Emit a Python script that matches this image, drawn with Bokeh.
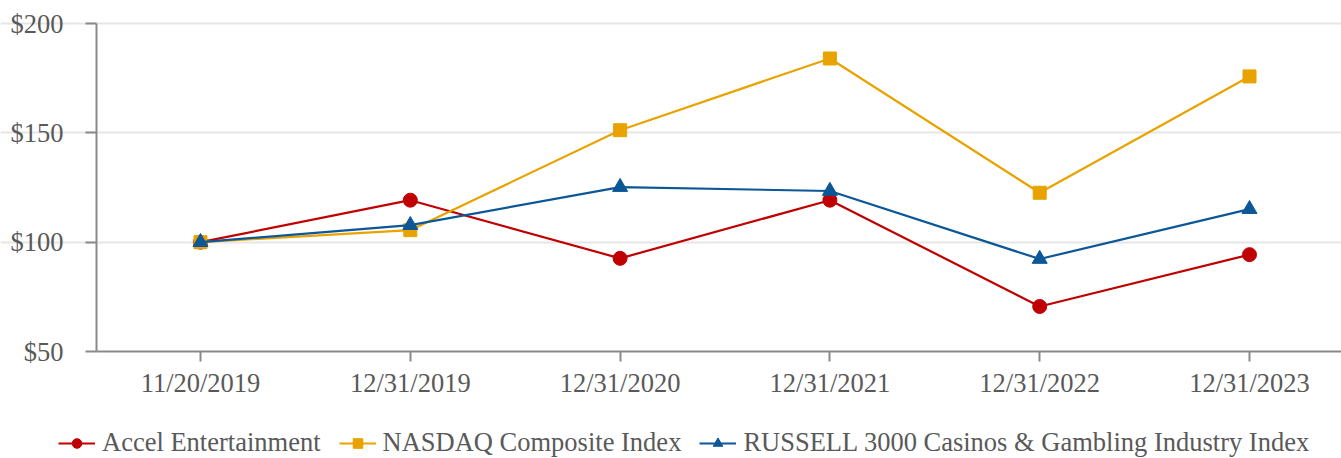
from bokeh.plotting import figure
from bokeh.models import Range1d, FixedTicker, Legend, LegendItem
from bokeh.embed import file_html
from bokeh.resources import INLINE

dates = ["11/20/2019", "12/31/2019", "12/31/2020", "12/31/2021", "12/31/2022", "12/31/2023"]
accel = [100, 119.2, 92.6, 119.2, 70.6, 94.3]
nasdaq = [100, 105.5, 151.2, 184.0, 122.6, 175.8]
russell = [100, 107.8, 125.2, 123.4, 92.3, 115.1]
y_ticks = [50, 100, 150, 200]
y_labels = ["$50", "$100", "$150", "$200"]

FONT = "Liberation Serif"
TXT = "#595959"
AX = "#898989"
FS = "26.5px"

x = list(range(len(dates)))

X0, X1 = -0.4957, 5.4385   # plot-area extent along x (data units)
Y0, Y1 = 50, 200            # plot-area extent along y

p = figure(width=1341, height=458, output_backend="svg", toolbar_location=None,
           x_range=Range1d(-0.9533, 5.4385), y_range=Range1d(1.07, 210.52),
           min_border_left=0, min_border_right=0, min_border_top=0, min_border_bottom=0)
p.outline_line_color = None
p.xgrid.grid_line_color = None
p.ygrid.grid_line_color = "#e6e6e6"
p.ygrid.grid_line_width = 2
p.ygrid.bounds = (X0, X1)
p.ygrid.ticker = FixedTicker(ticks=y_ticks[1:])

p.yaxis.ticker = FixedTicker(ticks=y_ticks)
p.yaxis.major_label_overrides = {t: l for t, l in zip(y_ticks, y_labels)}
p.yaxis.fixed_location = X0
p.yaxis.bounds = (Y0, Y1)
p.xaxis.ticker = FixedTicker(ticks=x)
p.xaxis.major_label_overrides = {i: d for i, d in enumerate(dates)}
p.xaxis.fixed_location = Y0
p.xaxis.bounds = (X0, X1)

for ax in (p.xaxis, p.yaxis):
    ax.axis_line_color = AX
    ax.axis_line_width = 2
    ax.major_tick_line_color = AX
    ax.major_tick_line_width = 2
    ax.major_tick_in = 0
    ax.minor_tick_line_color = None
    ax.major_label_text_font = FONT
    ax.major_label_text_font_size = FS
    ax.major_label_text_color = TXT
p.yaxis.major_tick_out = 11
p.yaxis.major_label_standoff = 22
p.xaxis.major_tick_out = 10
p.xaxis.major_label_standoff = 6

series = [
    ("Accel Entertainment", accel, "#C00000", "circle", 14),
    ("NASDAQ Composite Index", nasdaq, "#E8A300", "square", 13),
    ("RUSSELL 3000 Casinos & Gambling Industry Index", russell, "#0B5797", "triangle", 15),
]
items = []
for name, vals, col, mk, sz in series:
    l = p.line(x, vals, line_color=col, line_width=2.2)
    s = p.scatter(x, vals, marker=mk, size=sz, fill_color=col, line_color=col)
    items.append(LegendItem(label=name, renderers=[l, s]))

legend = Legend(items=items, orientation="horizontal", location=(58, 0),
                label_text_font=FONT, label_text_font_size=FS, label_text_color=TXT,
                glyph_width=37, glyph_height=24, label_standoff=7, spacing=18,
                padding=0, margin=0, border_line_color=None, background_fill_alpha=0)
p.add_layout(legend, "center")

open("out.html", "w").write(file_html(p, INLINE))
